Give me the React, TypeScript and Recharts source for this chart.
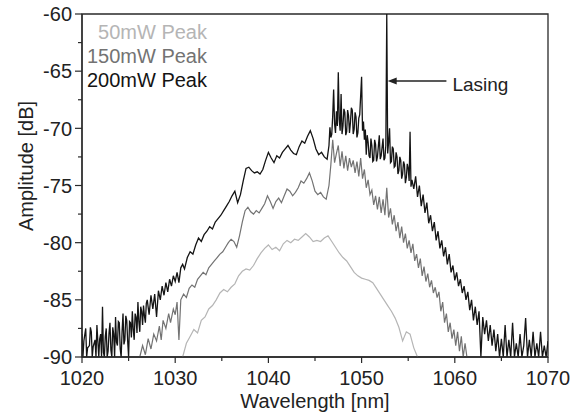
import React from 'react';
import {
    LineChart,
    Line,
    XAxis,
    YAxis,
    Legend,
    ReferenceArea,
    ReferenceLine,
} from 'recharts';

// [wavelength nm, amplitude dB]
const trace50: [number, number][] = [
    [1030.8, -90], [1031.2, -88.8], [1031.6, -88.2], [1032.0, -87.6], [1032.4, -87.9],
    [1032.8, -86.8], [1033.2, -86.5], [1033.6, -85.8], [1034.0, -85.5], [1034.4, -85.0],
    [1034.8, -84.4], [1035.2, -84.1], [1035.6, -84.3], [1036.0, -83.9], [1036.4, -83.6],
    [1036.8, -82.9], [1037.2, -82.5], [1037.6, -82.3], [1038.0, -82.4], [1038.4, -82.0],
    [1038.8, -81.4], [1039.2, -80.9], [1039.6, -80.5], [1040.0, -80.2], [1040.4, -80.6],
    [1040.8, -80.4], [1041.2, -80.7], [1041.6, -80.1], [1042.0, -79.8], [1042.4, -80.0],
    [1042.8, -79.7], [1043.2, -79.8], [1043.6, -79.5], [1044.0, -79.2], [1044.4, -79.5],
    [1044.8, -79.9], [1045.2, -79.8], [1045.6, -79.9], [1046.0, -79.6], [1046.4, -79.4],
    [1046.8, -79.9], [1047.2, -80.4], [1047.6, -80.9], [1048.0, -81.3], [1048.4, -81.6],
    [1048.8, -82.1], [1049.2, -82.6], [1049.6, -82.9], [1050.0, -83.1], [1050.4, -83.2],
    [1050.8, -83.3], [1051.2, -83.5], [1051.6, -84.0], [1052.0, -84.5], [1052.4, -85.0],
    [1052.8, -85.5], [1053.2, -86.0], [1053.6, -86.6], [1054.0, -87.4], [1054.4, -88.6],
    [1054.8, -87.8], [1055.2, -88.0], [1055.6, -89.2], [1056.0, -90],
];

const trace150: [number, number][] = [
    [1026.2, -90], [1026.5, -89.0], [1026.8, -89.8], [1027.1, -88.4], [1027.4, -89.3],
    [1027.7, -88.0], [1028.0, -88.6], [1028.3, -87.3], [1028.5, -88.5], [1028.7, -86.8],
    [1029.0, -87.5], [1029.3, -86.2], [1029.5, -87.0], [1029.8, -85.8], [1030.0, -86.3],
    [1030.2, -85.2], [1030.4, -88.5], [1030.6, -85.0], [1030.9, -84.5], [1031.2, -84.8],
    [1031.5, -84.0], [1031.8, -83.7], [1032.1, -83.9], [1032.4, -83.2], [1032.7, -82.9],
    [1033.0, -82.6], [1033.3, -82.8], [1033.6, -82.2], [1033.9, -81.9], [1034.2, -81.6],
    [1034.5, -81.3], [1034.8, -81.0], [1035.1, -80.8], [1035.4, -80.4], [1035.7, -80.0],
    [1036.0, -79.7], [1036.3, -79.9], [1036.6, -80.4], [1036.9, -79.4], [1037.2, -78.2],
    [1037.5, -77.2], [1037.8, -76.9], [1038.1, -77.3], [1038.4, -77.5], [1038.7, -77.2],
    [1039.0, -77.4], [1039.3, -77.0], [1039.6, -76.6], [1039.9, -75.9], [1040.2, -76.4],
    [1040.5, -77.0], [1040.8, -76.4], [1041.1, -76.1], [1041.4, -76.5], [1041.7, -75.9],
    [1042.0, -75.3], [1042.3, -75.5], [1042.6, -75.9], [1042.9, -75.6], [1043.2, -75.2],
    [1043.5, -74.6], [1043.8, -74.8], [1044.1, -74.4], [1044.4, -73.9], [1044.7, -74.6],
    [1045.0, -75.5], [1045.3, -75.8], [1045.6, -75.6], [1045.9, -76.0], [1046.2, -76.2],
    [1046.5, -75.0], [1046.7, -73.2], [1046.9, -71.0], [1047.1, -73.0], [1047.3, -72.2],
    [1047.5, -71.5], [1047.7, -73.3], [1047.9, -72.0], [1048.1, -73.5], [1048.3, -72.4],
    [1048.5, -73.7], [1048.7, -72.6], [1048.9, -73.4], [1049.1, -72.8], [1049.3, -73.9],
    [1049.5, -72.9], [1049.7, -74.2], [1049.9, -72.6], [1050.1, -74.4], [1050.3, -73.6],
    [1050.5, -75.2], [1050.7, -74.5], [1050.9, -75.8], [1051.1, -75.4], [1051.3, -76.7],
    [1051.5, -75.9], [1051.7, -77.1], [1051.9, -76.0], [1052.1, -77.4], [1052.3, -76.2],
    [1052.5, -77.6], [1052.7, -75.2], [1052.9, -77.8], [1053.1, -77.0], [1053.3, -78.4],
    [1053.5, -77.6], [1053.7, -79.0], [1053.9, -78.2], [1054.1, -79.6], [1054.3, -78.6],
    [1054.5, -80.0], [1054.7, -79.2], [1054.9, -80.5], [1055.1, -79.8], [1055.3, -80.9],
    [1055.5, -80.1], [1055.7, -81.6], [1055.9, -81.0], [1056.1, -82.2], [1056.3, -81.4],
    [1056.5, -82.9], [1056.7, -82.1], [1056.9, -83.4], [1057.1, -82.7], [1057.3, -83.9],
    [1057.5, -83.3], [1057.7, -84.4], [1057.9, -83.9], [1058.1, -84.8], [1058.3, -84.3],
    [1058.5, -86.0], [1058.7, -85.2], [1058.9, -87.0], [1059.1, -86.2], [1059.3, -87.8],
    [1059.5, -87.0], [1059.7, -88.4], [1059.9, -87.6], [1060.1, -89.0], [1060.3, -87.8],
    [1060.5, -89.5], [1060.7, -88.2], [1060.9, -90], [1061.1, -88.8], [1061.3, -90],
];

const trace200: [number, number][] = [
    [1020.0, -88], [1020.1, -90], [1020.2, -88.6], [1020.4, -87.5], [1020.5, -90], [1020.6, -89.2],
    [1020.8, -89], [1020.9, -87.4], [1021.0, -87.8], [1021.1, -90], [1021.2, -89.1], [1021.4, -88.5],
    [1021.5, -90], [1021.6, -87.2], [1021.8, -90], [1021.9, -88.4], [1022.0, -88], [1022.1, -90],
    [1022.2, -85.6], [1022.3, -89.6], [1022.4, -90], [1022.5, -88.2], [1022.6, -87.5], [1022.7, -90],
    [1022.8, -89.5], [1022.9, -87.9], [1023.0, -87], [1023.1, -89.4], [1023.2, -90], [1023.3, -87.4],
    [1023.4, -88], [1023.5, -90], [1023.6, -86.5], [1023.7, -88.7], [1023.8, -89], [1023.9, -86.9],
    [1024.0, -87], [1024.1, -89.3], [1024.2, -90], [1024.3, -87.8], [1024.4, -86.2], [1024.5, -88.9],
    [1024.6, -88.5], [1024.7, -86.4], [1024.8, -86.8], [1024.9, -88.6], [1025.0, -90], [1025.1, -86.9],
    [1025.2, -87], [1025.3, -88.3], [1025.4, -86], [1025.5, -87.6], [1025.6, -88.5], [1025.7, -86.2],
    [1025.8, -86.5], [1025.9, -87.9], [1026.0, -85.2], [1026.1, -86.9], [1026.2, -87.8], [1026.3, -85.6],
    [1026.4, -86], [1026.5, -87.2], [1026.6, -85.5], [1026.7, -86.4], [1026.8, -87], [1026.9, -85.3],
    [1027.0, -85], [1027.2, -86.3], [1027.4, -84.6], [1027.6, -85.8], [1027.8, -84.5],
    [1028.0, -86.5], [1028.2, -84.2], [1028.4, -85], [1028.6, -83.8], [1028.8, -84.6],
    [1029.0, -83.5], [1029.2, -84.3], [1029.4, -83.2], [1029.6, -83.8], [1029.8, -82.9],
    [1030.0, -83.4], [1030.2, -82.6], [1030.4, -83.5], [1030.6, -82.2], [1030.8, -81.9],
    [1031.0, -82.3], [1031.3, -81.3], [1031.6, -80.8], [1031.9, -81.0], [1032.2, -80.2],
    [1032.5, -79.6], [1032.8, -79.9], [1033.1, -79.3], [1033.4, -79.0], [1033.7, -78.6],
    [1034.0, -78.8], [1034.3, -78.2], [1034.6, -77.9], [1034.9, -77.6], [1035.2, -77.2],
    [1035.5, -76.8], [1035.8, -76.4], [1036.1, -75.9], [1036.4, -75.5], [1036.7, -76.5],
    [1037.0, -75.8], [1037.3, -74.6], [1037.6, -73.5], [1037.9, -73.4], [1038.2, -73.7],
    [1038.5, -73.9], [1038.8, -73.8], [1039.1, -74.0], [1039.4, -73.6], [1039.7, -72.8],
    [1040.0, -72.1], [1040.3, -72.6], [1040.6, -73.0], [1040.9, -72.4], [1041.2, -72.6],
    [1041.5, -72.1], [1041.8, -71.8], [1042.1, -71.5], [1042.4, -71.9], [1042.7, -72.2],
    [1043.0, -72.3], [1043.3, -71.6], [1043.6, -71.1], [1043.9, -71.3], [1044.2, -70.7],
    [1044.5, -70.2], [1044.8, -70.9], [1045.1, -71.8], [1045.4, -72.3], [1045.7, -72.1],
    [1046.0, -72.5], [1046.3, -72.7], [1046.5, -71.5], [1046.6, -69.9], [1046.7, -70.8], [1046.8, -70.5],
    [1046.9, -68.9], [1047.0, -66.6], [1047.1, -69.6], [1047.2, -70.4], [1047.3, -68.5], [1047.4, -69.8],
    [1047.5, -65.1], [1047.6, -69.2], [1047.7, -70.2], [1047.8, -67.0], [1047.9, -70.5], [1048.0, -69.8],
    [1048.1, -68.3], [1048.2, -68.6], [1048.3, -70.6], [1048.4, -70.3], [1048.5, -68.4], [1048.6, -68.9],
    [1048.7, -70.4], [1048.8, -69.5], [1048.9, -68.2], [1049.0, -68.4], [1049.1, -70.5], [1049.2, -70.1],
    [1049.3, -68.6], [1049.4, -69.0], [1049.5, -70.8], [1049.6, -70.4], [1049.7, -69.1],
    [1049.8, -68.8], [1050.0, -65.5], [1050.1, -70.2], [1050.2, -69.4], [1050.3, -71.0], [1050.4, -70.1],
    [1050.5, -72.3], [1050.6, -70.6], [1050.7, -71.2], [1050.8, -72.4], [1050.9, -72.6], [1051.0, -70.9],
    [1051.1, -71.5], [1051.2, -72.9], [1051.3, -72.8], [1051.4, -71.0], [1051.5, -71.4], [1051.6, -72.9],
    [1051.7, -72.5], [1051.9, -70.6], [1052.0, -72.7], [1052.1, -72.4], [1052.3, -70.9], [1052.4, -72.8],
    [1052.5, -72.6], [1052.6, -71.5], [1052.7, -60], [1052.8, -72.2], [1052.9, -71.2], [1053.0, -70.0],
    [1053.1, -73.0], [1053.2, -72.9], [1053.3, -71.6], [1053.4, -71.8], [1053.5, -73.4], [1053.6, -73.3],
    [1053.7, -72.1], [1053.8, -72.5], [1053.9, -74.0], [1054.0, -73.7], [1054.1, -72.5], [1054.2, -72.8],
    [1054.3, -74.4], [1054.4, -74.0], [1054.5, -72.9], [1054.6, -73.2], [1054.7, -74.8], [1054.8, -74.3],
    [1054.9, -73.1], [1055.0, -73.5], [1055.1, -74.6], [1055.2, -70.3], [1055.3, -75.1],
    [1055.4, -74.5], [1055.6, -75.3], [1055.8, -74.2], [1056.0, -76.0], [1056.2, -75.0],
    [1056.4, -76.8], [1056.6, -75.8], [1056.8, -77.4], [1057.0, -76.5], [1057.2, -78.3],
    [1057.4, -77.6], [1057.6, -79.0], [1057.8, -78.2], [1058.0, -79.8], [1058.2, -79.0],
    [1058.4, -80.5], [1058.6, -79.8], [1058.8, -81.2], [1059.0, -80.4], [1059.2, -81.9],
    [1059.4, -81.0], [1059.6, -82.6], [1059.8, -82.0], [1060.0, -83.3], [1060.2, -82.6],
    [1060.4, -83.8], [1060.6, -83.2], [1060.8, -84.4], [1061.0, -83.8], [1061.2, -85.0],
    [1061.4, -84.3], [1061.6, -85.9], [1061.8, -85.0], [1062.0, -86.8], [1062.2, -85.6],
    [1062.4, -87.2], [1062.6, -86.0], [1062.8, -90], [1063.0, -86.5], [1063.2, -88.0],
    [1063.4, -86.8], [1063.6, -88.6], [1063.8, -87.2], [1064.0, -89.0], [1064.2, -87.6],
    [1064.4, -89.5], [1064.6, -88.0], [1064.8, -90], [1065.0, -88.4], [1065.2, -90],
    [1065.4, -87.2], [1065.6, -90], [1065.8, -88.5], [1066.0, -90], [1066.2, -87.0],
    [1066.4, -90], [1066.6, -88.8], [1066.8, -90], [1067.0, -88.0], [1067.2, -90],
    [1067.4, -89.0], [1067.6, -86.6], [1067.8, -90], [1068.0, -88.5], [1068.2, -90],
    [1068.4, -87.8], [1068.6, -90], [1068.8, -88.8], [1069.0, -90], [1069.2, -87.8],
    [1069.4, -90], [1069.6, -89.0], [1069.8, -90], [1070.0, -88.6],
];

const legendOrder = ['50mW Peak', '150mW Peak', '200mW Peak'];
const xTicks = [1020, 1025, 1030, 1035, 1040, 1045, 1050, 1055, 1060, 1065, 1070];
const yTicks = [-90, -87.5, -85, -82.5, -80, -77.5, -75, -72.5, -70, -67.5, -65, -62.5, -60];

// arrow from label towards the lasing line
const lasingArrow = [
    { x: 1059.1, y: -65.86 },
    { x: 1052.8, y: -65.86 },
];

const FONT = '"Liberation Sans", Arial, sans-serif';
const AXIS = '#2a2a2a';

const toPoints = (t: [number, number][]) => t.map(([x, y]) => ({ x, y }));

const XTick = (props: any) => {
    const { x, y, payload } = props;
    const major = payload.value % 10 === 0;
    return (
        <g>
            <line x1={x} x2={x} y1={y} y2={y + (major ? 6 : 4)} stroke={AXIS} strokeWidth={1.2} />
            {major && (
                <text x={x} y={y + 28} textAnchor="middle" fontSize={20} fontFamily={FONT} fill="#222">
                    {payload.value}
                </text>
            )}
        </g>
    );
};

const YTick = (props: any) => {
    const { x, y, payload } = props;
    const major = payload.value % 5 === 0;
    return (
        <g>
            <line x1={x} x2={x - (major ? 7 : 4)} y1={y} y2={y} stroke={AXIS} strokeWidth={1.2} />
            {major && (
                <text x={x - 10} y={y} dy="0.36em" textAnchor="end" fontSize={20} fontFamily={FONT} fill="#222">
                    {payload.value}
                </text>
            )}
        </g>
    );
};

const renderLegend = (props: any) => {
    const items = [...props.payload].sort(
        (a: any, b: any) => legendOrder.indexOf(a.value) - legendOrder.indexOf(b.value),
    );
    return (
        <div style={{ textAlign: 'right', fontFamily: FONT, fontSize: 20, lineHeight: '24px' }}>
            {items.map((item: any) => (
                <div key={item.value} style={{ color: item.color }}>
                    {item.value}
                </div>
            ))}
        </div>
    );
};

const ArrowShape = (p: any) => {
    const { x1, y1, x2, y2 } = p;
    return (
        <g>
            <line x1={x1} y1={y1} x2={x2 + 6} y2={y2} stroke="#222" strokeWidth={1.3} />
            <polygon points={`${x2},${y2} ${x2 + 9},${y2 - 3.5} ${x2 + 9},${y2 + 3.5}`} fill="#222" />
            <text x={x1 + 6} y={y1 + 10} fontSize={19} fontFamily={FONT} fill="#222">
                Lasing
            </text>
        </g>
    );
};

export default function App() {
    return (
        <div style={{ position: 'absolute', left: 0, top: 0, background: '#fff' }}>
            <LineChart width={578} height={412} margin={{ top: 14, right: 30, left: 0, bottom: 0 }}>
                <XAxis
                    dataKey="x"
                    type="number"
                    domain={[1020, 1070]}
                    ticks={xTicks}
                    allowDataOverflow
                    height={55}
                    stroke={AXIS}
                    strokeWidth={1.3}
                    tickSize={0}
                    tickMargin={0}
                    tickLine={false}
                    tick={<XTick />}
                    label={{
                        content: (lp: any) => {
                            const vb = lp.viewBox;
                            return (
                                <text x={vb.x + vb.width / 2} y={vb.y + 51} textAnchor="middle" fontSize={20} fontFamily={FONT} fill="#222">
                                    Wavelength [nm]
                                </text>
                            );
                        },
                    }}
                />
                <YAxis
                    type="number"
                    domain={[-90, -60]}
                    ticks={yTicks}
                    allowDataOverflow
                    width={82}
                    stroke={AXIS}
                    strokeWidth={1.3}
                    tickSize={0}
                    tickMargin={0}
                    tickLine={false}
                    tick={<YTick />}
                    label={{
                        content: () => (
                            <text x={26} y={166} transform="rotate(-90 26 166)" textAnchor="middle" dominantBaseline="central" fontSize={20} fontFamily={FONT} fill="#222">
                                Amplitude [dB]
                            </text>
                        ),
                    }}
                />
                <ReferenceArea x1={1020} x2={1070} y1={-90} y2={-60} fill="none" stroke={AXIS} strokeWidth={1.3} />
                <Legend
                    layout="vertical"
                    align="center"
                    verticalAlign="middle"
                    content={renderLegend}
                    wrapperStyle={{ left: 60, top: 20, width: 147 }}
                />
                <Line data={toPoints(trace50)} dataKey="y" name="50mW Peak" stroke="#b5b5b5" strokeWidth={1.2} dot={false} isAnimationActive={false} />
                <Line data={toPoints(trace150)} dataKey="y" name="150mW Peak" stroke="#737373" strokeWidth={1.2} dot={false} isAnimationActive={false} />
                <Line data={toPoints(trace200)} dataKey="y" name="200mW Peak" stroke="#141414" strokeWidth={1.3} dot={false} isAnimationActive={false} />
                <ReferenceLine segment={lasingArrow} shape={<ArrowShape />} ifOverflow="visible" />
            </LineChart>
        </div>
    );
}
